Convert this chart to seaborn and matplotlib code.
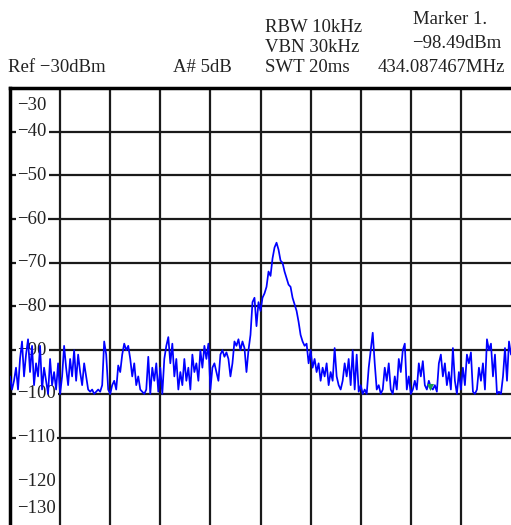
import numpy as np
import pandas as pd
import matplotlib
matplotlib.use("Agg")
import matplotlib.pyplot as plt
import seaborn as sns

# ---- data (read off the screen capture) ----
# trace level in dBm, one sample every ~0.04 division (10 divisions across)
trace_dbm = [
    -96, -99, -97, -94, -99, -92, -88, -96, -91, -87.5, -95, -89, -98, -93, -96, -89,
    -99, -94, -97, -100, -92, -98, -95, -99, -93, -100,
    -96, -89, -94, -98, -92, -96, -90, -97, -91, -95, -98, -93, -96, -99, -99.5, -99,
    -100, -99.5, -99, -99.5, -98, -88, -91, -99, -100,
    -98, -97, -99, -93.5, -95, -91, -88.5, -90, -89, -92, -96, -93, -98, -96, -99,
    -99.5, -100, -99, -91.5, -100, -94, -97, -93, -99.5, -94, -100, -92, -89, -87,
    -93, -88.5, -96, -92, -99, -95, -98, -92, -97, -94, -99, -91, -95, -93, -97, -90,
    -94, -89, -92, -88.5, -99, -94,
    -93, -95, -97, -91, -90, -91.5, -90.5, -92, -96, -93, -88, -89, -87.5, -90, -88,
    -89.5, -95, -90, -86.5, -79, -78, -84.5, -79, -81, -78, -77, -75.5, -72, -73,
    -69, -66.5, -65.4, -67, -69.5, -70, -72, -73.5, -75, -75.5, -78, -79.5, -81,
    -83.5, -86.5, -88, -89, -88.5, -93, -90, -94,
    -92, -95, -93, -97, -94, -96, -93, -98, -95, -97, -89.5, -96, -98, -99, -97, -93,
    -96, -92, -98, -90, -99, -91, -99.5, -98, -100, -99, -100, -94, -90, -86, -93,
    -99, -98, -100, -99, -94, -97, -93, -99, -100, -96, -99, -92, -95, -90, -88.5,
    -99, -96, -100,
    -99, -97, -99, -93, -96, -92.5, -98, -99, -97, -98.5, -99, -98, -99.5, -93, -91,
    -96, -93, -98, -95, -99, -89.5, -97, -100, -95, -99, -94, -98, -91, -93, -90.5,
    -99.5, -100, -99, -94, -97, -93, -99, -87.5, -90, -88.5, -96, -91, -100, -99.5,
    -100, -96, -89.5, -97, -88, -91,
]
marker_div = 8.38
marker_dbm = -98.49
y_ticks = [-30, -40, -50, -60, -70, -80, -90, -100, -110, -120, -130]
grid_levels = [-40, -50, -60, -70, -80, -90, -100, -110]

header_left = ["Ref \u221230dBm", "A# 5dB"]
header_mid = ["RBW 10kHz", "VBN 30kHz", "SWT 20ms"]
header_right = ["Marker 1.", "\u221298.49dBm", "434.087467MHz"]

df = pd.DataFrame({"div": np.linspace(0, 10, len(trace_dbm)), "dbm": trace_dbm})

sns.set_style("white")
plt.rcParams["font.family"] = ["Liberation Serif", "DejaVu Serif"]

W, H = 511, 525
fig = plt.figure(figsize=(W / 100, H / 100), dpi=100)
ax = fig.add_axes([10 / W, 0, 1 - 10 / W, 1 - 88 / H])
ax.set_xlim(0, 10)
ax.set_ylim(-130, -30)

# graticule
for d in range(1, 10):
    ax.axvline(d, color="#1a1a1a", lw=1.6, zorder=1)
for lv in grid_levels:
    ax.axhline(lv, color="#1a1a1a", lw=1.6, zorder=1)

# level labels inside the screen
for v in y_ticks:
    ly = min(max(v, -126.3), -33.9)
    ax.text(0.15, ly, f"\u2212{abs(v)}", ha="left", va="center", fontsize=13.5,
            color="#222222", zorder=2,
            bbox=dict(facecolor="white", edgecolor="none", pad=1.2))

sns.lineplot(data=df, x="div", y="dbm", ax=ax, color="#0000ff", lw=1.25,
             estimator=None, sort=False, zorder=3)
ax.scatter([marker_div], [marker_dbm], marker="v", s=26, color="#1a9a50",
           zorder=4, linewidths=0)

ax.set_xticks([])
ax.set_yticks([])
ax.set_xlabel("")
ax.set_ylabel("")
for s in ["right", "bottom"]:
    ax.spines[s].set_visible(False)
for s in ["left", "top"]:
    ax.spines[s].set_visible(True)
    ax.spines[s].set_color("black")
    ax.spines[s].set_linewidth(2.5)

# header texts, positions in pixels of the 511x525 canvas
def put(txt, x, y):
    fig.text(x / W, 1 - y / H, txt, ha="left", va="center", fontsize=13.5, color="#222222")

put(header_left[0], 8, 68)
put(header_left[1], 173, 68)
for i, t in enumerate(header_mid):
    put(t, 265, 27 + i * 20.5)
put(header_right[0], 413, 20)
put(header_right[1], 412, 44)
put(header_right[2], 378, 68)

fig.savefig("out.png", dpi=100)
